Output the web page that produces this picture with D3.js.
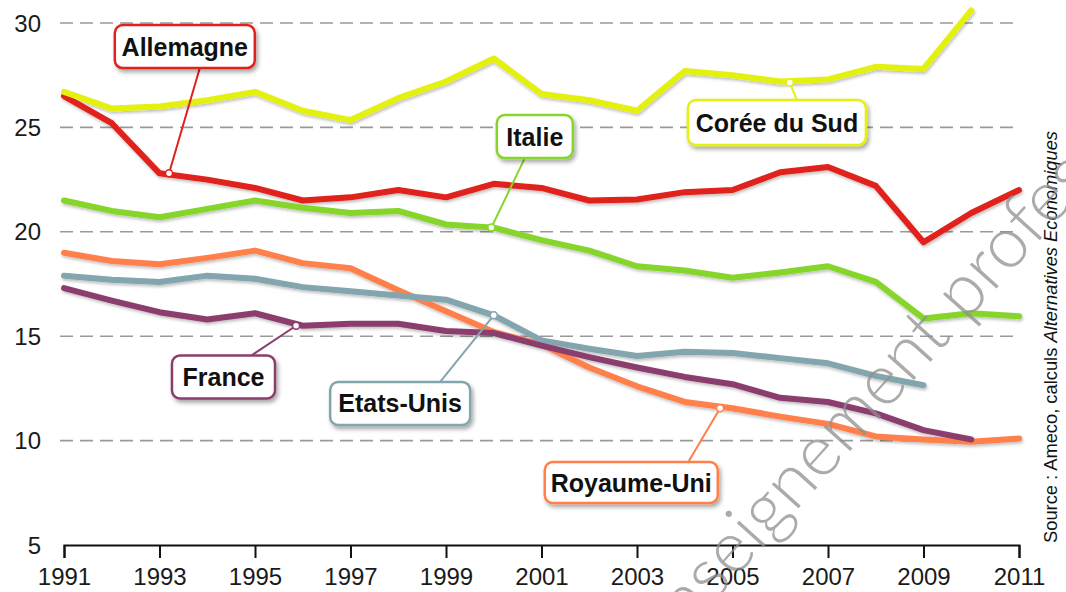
<!DOCTYPE html>
<html>
<head>
<meta charset="utf-8">
<script src="https://cdn.jsdelivr.net/npm/d3@7"></script>
<style>
  body { margin: 0; background: #fff; }
  svg { display: block; }
  .tick-lbl { font-family: "Liberation Sans", Arial, sans-serif; font-size: 24px; fill: #1a1a1a; }
  .box-lbl { font-family: "Liberation Sans Narrow", "Liberation Sans", Arial, sans-serif; font-weight: bold; font-size: 25px; fill: #111; }
  .source { font-family: "Liberation Sans Narrow", "Liberation Sans", Arial, sans-serif; font-size: 18px; fill: #111; }
</style>
</head>
<body>
<div id="chart"></div>
<script>
// data
const years = d3.range(1991, 2012);
const yTicks = [5, 10, 15, 20, 25, 30];
const xTicks = [1991, 1993, 1995, 1997, 1999, 2001, 2003, 2005, 2007, 2009, 2011];

const allemagne = [26.5, 25.2, 22.8, 22.5, 22.1, 21.5, 21.65, 22.0, 21.65, 22.3, 22.1, 21.5, 21.55, 21.9, 22.0, 22.85, 23.1, 22.2, 19.5, 20.9, 22.0];
const coree = [26.7, 25.9, 26.0, 26.3, 26.7, 25.8, 25.35, 26.4, 27.2, 28.3, 26.6, 26.3, 25.8, 27.7, 27.5, 27.2, 27.3, 27.9, 27.8, 30.6];
const italie = [21.5, 21.0, 20.7, 21.1, 21.5, 21.15, 20.9, 21.0, 20.35, 20.2, 19.6, 19.1, 18.35, 18.15, 17.8, 18.05, 18.35, 17.6, 15.85, 16.1, 15.95];
const royaumeUni = [19.0, 18.6, 18.45, 18.75, 19.1, 18.5, 18.25, 17.2, 16.2, 15.2, 14.6, 13.5, 12.6, 11.85, 11.55, 11.15, 10.8, 10.2, 10.05, 9.95, 10.1];
const etatsUnis = [17.9, 17.7, 17.6, 17.9, 17.75, 17.35, 17.15, 16.95, 16.75, 16.0, 14.8, 14.4, 14.05, 14.25, 14.2, 13.95, 13.7, 13.1, 12.65];
const france = [17.3, 16.7, 16.15, 15.8, 16.1, 15.5, 15.6, 15.6, 15.25, 15.15, 14.55, 14.0, 13.5, 13.05, 12.7, 12.05, 11.85, 11.3, 10.5, 10.05];

const series = [
  {name: "Allemagne", values: allemagne, color: "#e1201a"},
  {name: "Corée du Sud", values: coree, color: "#e4f00f"},
  {name: "Italie", values: italie, color: "#86d52a"},
  {name: "Royaume-Uni", values: royaumeUni, color: "#ff804b"},
  {name: "Etats-Unis", values: etatsUnis, color: "#83a5ae"},
  {name: "France", values: france, color: "#8b3d6e"}
];

// label boxes: anchor on the line (year, value), box centre (year, value)
const labels = [
  {name: "Allemagne", color: "#e1201a", anchor: [1993.2, 22.8], at: [1993.53, 28.87], w: 140, h: 43, att: [15, 1]},
  {name: "Italie", color: "#86d52a", anchor: [1999.95, 20.2], at: [2000.86, 24.56], w: 76, h: 43, att: [-10, 1]},
  {name: "Corée du Sud", color: "#e4f00f", anchor: [2006.2, 27.15], at: [2005.93, 25.23], w: 178, h: 45, att: [20, -1]},
  {name: "France", color: "#8b3d6e", anchor: [1995.86, 15.5], at: [1994.34, 13.05], w: 103, h: 43, att: [28, -1]},
  {name: "Etats-Unis", color: "#83a5ae", anchor: [2000, 16.0], at: [1998.04, 11.78], w: 140, h: 43, att: [40, -1]},
  {name: "Royaume-Uni", color: "#ff804b", anchor: [2004.74, 11.55], at: [2002.88, 7.99], w: 173, h: 41, att: [57, -1]}
];

const W = 1066, H = 592;
const svg = d3.select("#chart").append("svg")
  .attr("width", W).attr("height", H);

const defs = svg.append("defs");
const sh = defs.append("filter").attr("id", "shadow")
  .attr("x", "-20%").attr("y", "-20%").attr("width", "140%").attr("height", "150%");
sh.append("feDropShadow").attr("dx", 2).attr("dy", 3).attr("stdDeviation", 2)
  .attr("flood-color", "#000").attr("flood-opacity", 0.35);
const lsh = defs.append("filter").attr("id", "lshadow")
  .attr("x", "-5%").attr("y", "-10%").attr("width", "110%").attr("height", "130%");
lsh.append("feDropShadow").attr("dx", 1).attr("dy", 2).attr("stdDeviation", 1.5)
  .attr("flood-color", "#000").attr("flood-opacity", 0.25);

const x = d3.scaleLinear().domain([1991, 2011]).range([64, 1019]);
const y = d3.scaleLinear().domain([5, 30]).range([545, 23]);

// grid
svg.append("g").selectAll("line")
  .data(yTicks.filter(d => d > 5))
  .join("line")
  .attr("x1", 60).attr("x2", 1020)
  .attr("y1", d => y(d)).attr("y2", d => y(d))
  .attr("stroke", "#9a9a9a").attr("stroke-width", 1.6)
  .attr("stroke-dasharray", "13,7");

// y labels
svg.append("g").selectAll("text")
  .data(yTicks)
  .join("text")
  .attr("class", "tick-lbl")
  .attr("x", 41)
  .attr("y", d => y(d))
  .attr("dy", "0.36em")
  .attr("text-anchor", "end")
  .text(d => d);

// x axis
const xAxis = svg.append("g")
  .attr("transform", `translate(0,${y(5)})`)
  .call(d3.axisBottom(x).tickValues(xTicks).tickFormat(d3.format("d")).tickSize(13).tickPadding(10));
xAxis.select(".domain").attr("stroke", "#111").attr("stroke-width", 2);
xAxis.selectAll(".tick line").attr("stroke", "#111").attr("stroke-width", 2);
xAxis.selectAll(".tick text").attr("class", "tick-lbl").attr("font-size", null).attr("font-family", null).attr("fill", null);

// lines
const line = d3.line()
  .x((d, i) => x(years[i]))
  .y(d => y(d));

svg.append("g").attr("filter", "url(#lshadow)")
  .selectAll("path")
  .data(series)
  .join("path")
  .attr("d", d => line(d.values))
  .attr("fill", "none")
  .attr("stroke", d => d.color)
  .attr("stroke-width", 6)
  .attr("stroke-linejoin", "round")
  .attr("stroke-linecap", "round");

// label boxes with leaders
const lg = svg.append("g").selectAll("g")
  .data(labels)
  .join("g");

lg.append("line")
  .attr("x1", d => x(d.anchor[0])).attr("y1", d => y(d.anchor[1]))
  .attr("x2", d => x(d.at[0]) + d.att[0])
  .attr("y2", d => y(d.at[1]) + d.att[1] * d.h / 2)
  .attr("stroke", d => d.color).attr("stroke-width", 2);

lg.append("circle")
  .attr("cx", d => x(d.anchor[0])).attr("cy", d => y(d.anchor[1]))
  .attr("r", 3.5)
  .attr("fill", "#fff")
  .attr("stroke", d => d.color).attr("stroke-width", 1.5);

lg.append("rect")
  .attr("x", d => x(d.at[0]) - d.w / 2)
  .attr("y", d => y(d.at[1]) - d.h / 2)
  .attr("width", d => d.w).attr("height", d => d.h)
  .attr("rx", 8)
  .attr("fill", "#fff")
  .attr("stroke", d => d.color).attr("stroke-width", 2.5)
  .attr("filter", "url(#shadow)");

lg.append("text")
  .attr("class", "box-lbl")
  .attr("x", d => x(d.at[0]))
  .attr("y", d => y(d.at[1]))
  .attr("dy", "0.36em")
  .attr("text-anchor", "middle")
  .text(d => d.name);

// source
const src = svg.append("text")
  .attr("class", "source")
  .attr("transform", "translate(1057,543) rotate(-90)")
  .attr("textLength", 412)
  .attr("lengthAdjust", "spacingAndGlyphs");
src.append("tspan").text("Source : Ameco, calculs ");
src.append("tspan").attr("font-style", "italic").text("Alternatives Economiques");

// watermark on top
svg.append("text")
  .attr("transform", "translate(662,660) rotate(-48)")
  .attr("font-family", "Lato, 'Open Sans', sans-serif")
  .attr("font-weight", 300)
  .attr("font-size", 72)
  .attr("fill", "#8f8f8f")
  .attr("opacity", 0.75)
  .text("enseignement professionnel");
</script>
</body>
</html>
